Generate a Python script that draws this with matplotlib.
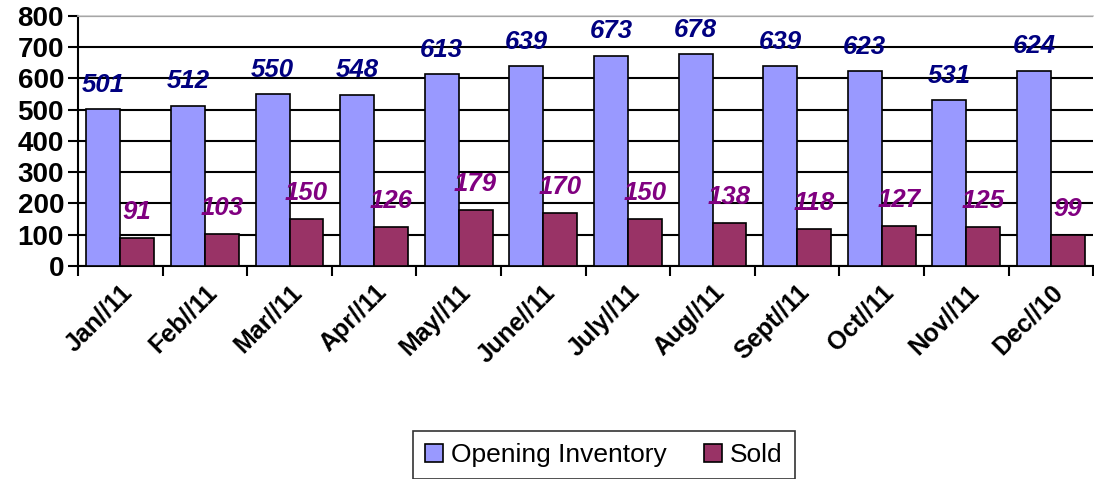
import numpy as np
import matplotlib.pyplot as plt

plt.rcParams['font.family'] = ['Liberation Sans', 'DejaVu Sans']

months = ['Jan//11', 'Feb//11', 'Mar//11', 'Apr//11', 'May//11', 'June//11',
          'July//11', 'Aug//11', 'Sept//11', 'Oct//11', 'Nov//11', 'Dec//10']
opening = [501, 512, 550, 548, 613, 639, 673, 678, 639, 623, 531, 624]
sold = [91, 103, 150, 126, 179, 170, 150, 138, 118, 127, 125, 99]

fig = plt.figure(figsize=(10.94, 4.79), dpi=100)
ax = fig.add_axes([0.0713, 0.4447, 0.928, 0.522])

x = np.arange(len(months))
w = 0.4
b1 = ax.bar(x + 0.1, opening, w, align='edge', color='#9999FF', edgecolor='black',
            linewidth=1.2, label='Opening Inventory', zorder=3)
b2 = ax.bar(x + 0.5, sold, w, align='edge', color='#993366', edgecolor='black',
            linewidth=1.2, label='Sold', zorder=3)

for rect, v in zip(b1, opening):
    ax.annotate(str(v), (rect.get_x() + rect.get_width() / 2, v), xytext=(0, 9),
                textcoords='offset points', ha='center', va='bottom',
                fontsize=18.5, fontweight='bold', fontstyle='italic', color='#000080')
for rect, v in zip(b2, sold):
    ax.annotate(str(v), (rect.get_x() + rect.get_width() / 2, v), xytext=(0, 10),
                textcoords='offset points', ha='center', va='bottom',
                fontsize=18.5, fontweight='bold', fontstyle='italic', color='#800080')

ax.set_xlim(0, len(months))
ax.set_ylim(0, 800)
ax.set_yticks(range(0, 801, 100))
ax.set_yticklabels([str(v) for v in range(0, 801, 100)], fontsize=20, fontweight='bold')
ax.set_xticks(np.arange(len(months) + 1), minor=True)
ax.set_xticks(x + 0.5)
ax.set_xticklabels(months, rotation=45, ha='right', rotation_mode='anchor',
                   fontsize=18, fontweight='bold')
ax.tick_params(axis='x', which='major', length=0, pad=10)
ax.tick_params(axis='x', which='minor', length=7, width=1.5, direction='out')
ax.tick_params(axis='y', length=7, width=1.5, direction='out', pad=3)

ax.yaxis.grid(True, color='black', linewidth=1.5, zorder=0)
ax.set_axisbelow(True)
ax.spines['right'].set_visible(False)
ax.spines['top'].set_color('#c8c8c8')
ax.spines['top'].set_linewidth(1.2)
ax.spines['left'].set_linewidth(1.5)
ax.spines['bottom'].set_linewidth(1.5)

leg = fig.legend(loc='center', bbox_to_anchor=(0.552, 0.05), ncol=2, fontsize=19,
                 frameon=True, fancybox=False, edgecolor='black', handlelength=0.7,
                 handleheight=0.7, handletextpad=0.3, columnspacing=1.4,
                 borderpad=0.45, borderaxespad=0)
leg.get_frame().set_linewidth(1.2)

fig.savefig('out.png', dpi=100)
